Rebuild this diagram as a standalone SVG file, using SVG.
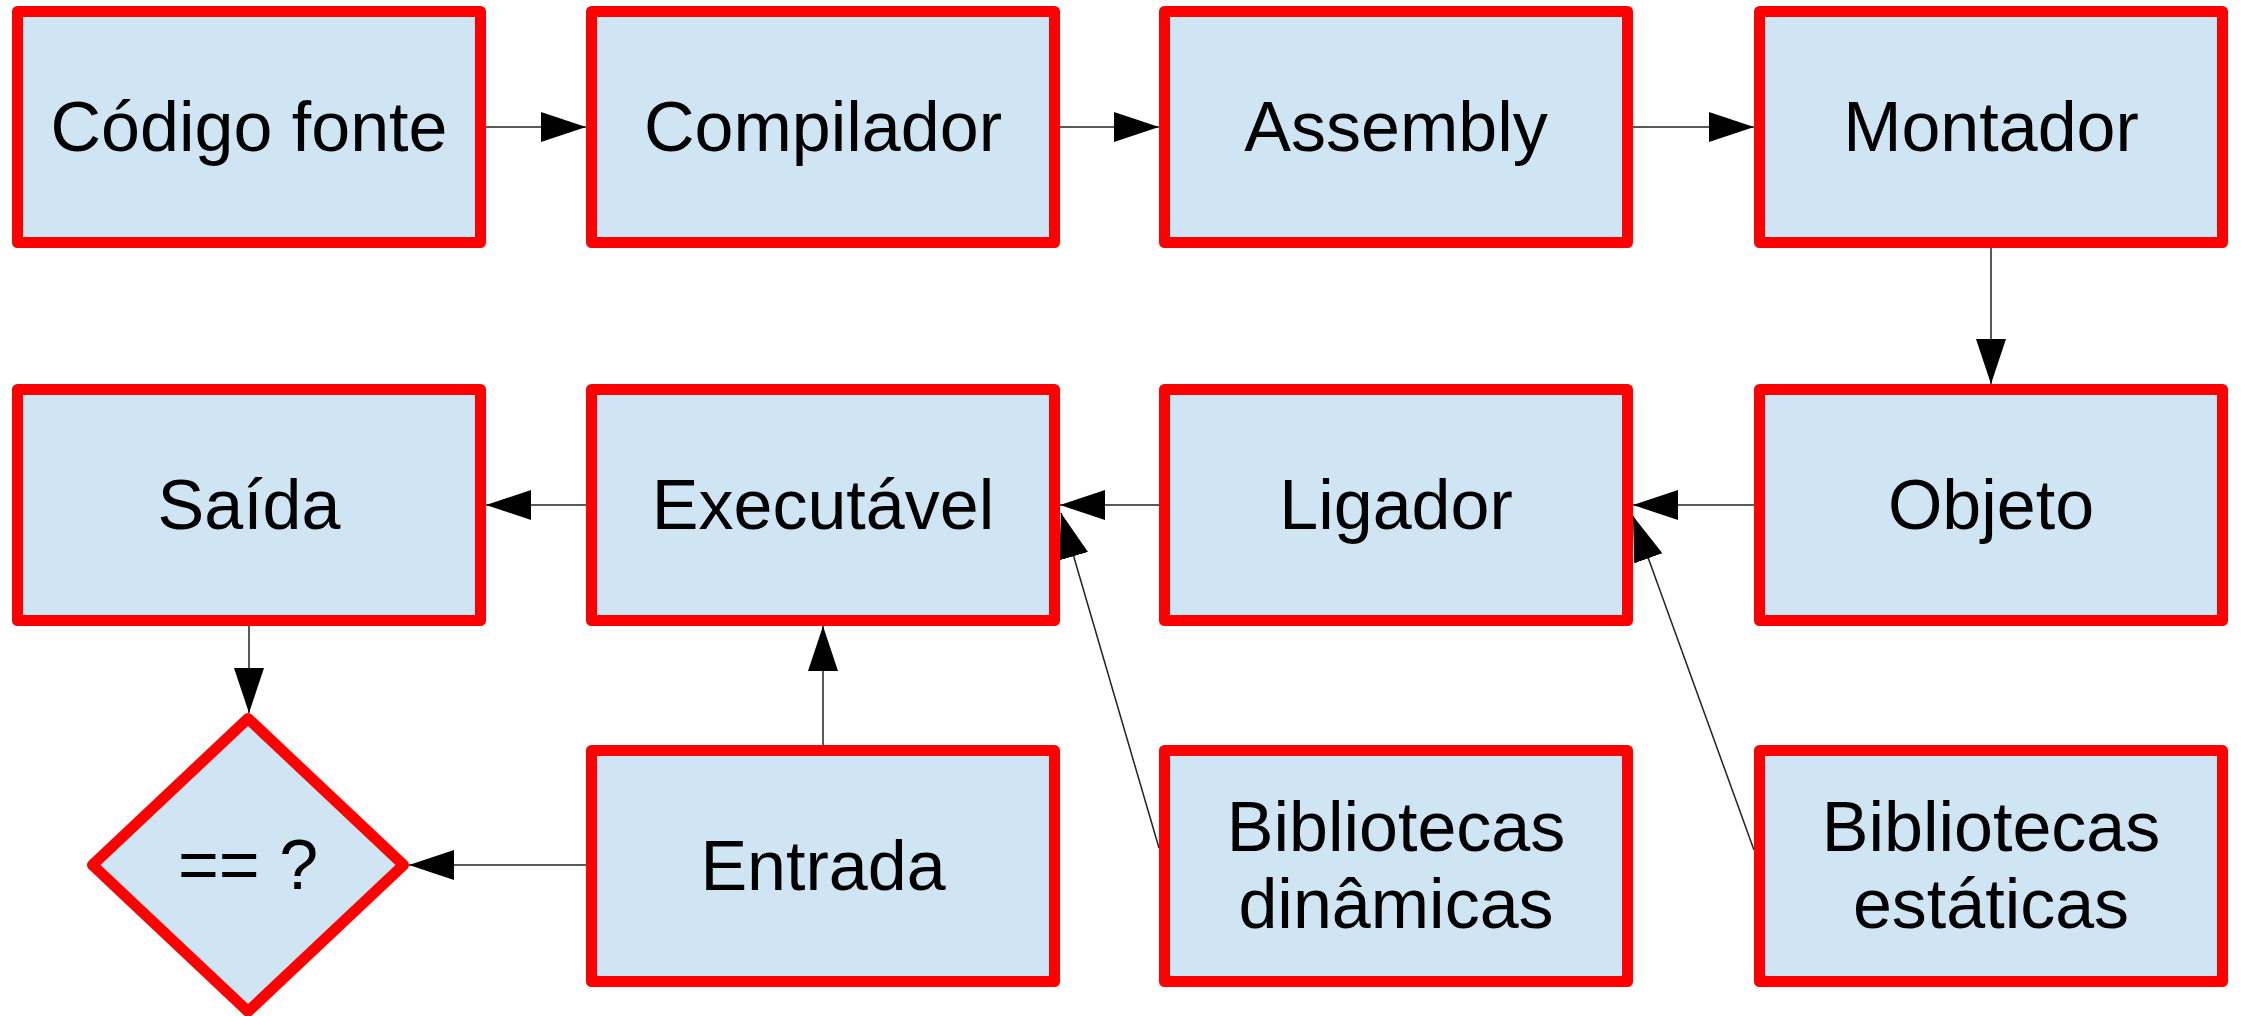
<svg xmlns="http://www.w3.org/2000/svg" width="2241" height="1016" viewBox="0 0 2241 1016">
<style>
.box{fill:#cfe5f3;stroke:#ff0000;stroke-width:11;stroke-linejoin:round}
.lbl{font-family:"Liberation Sans",Arial,sans-serif;font-size:70px;fill:#000;text-anchor:middle}
.con{stroke:#222;stroke-width:1.5;fill:none;marker-end:url(#arr)}
</style>
<defs>
<marker id="arr" markerUnits="userSpaceOnUse" markerWidth="46" markerHeight="30" refX="45" refY="15" orient="auto" viewBox="0 0 46 30">
<path d="M0,0 L45,15 L0,30 Z" fill="#000"/>
</marker>
</defs>
<rect width="2241" height="1016" fill="#fff"/>
<g id="connectors">
<line class="con" x1="486" y1="127" x2="586" y2="127"/>
<line class="con" x1="1060" y1="127" x2="1159" y2="127"/>
<line class="con" x1="1633" y1="127" x2="1754" y2="127"/>
<line class="con" x1="1991" y1="248" x2="1991" y2="384"/>
<line class="con" x1="1754" y1="505" x2="1633" y2="505"/>
<line class="con" x1="1159" y1="505" x2="1060" y2="505"/>
<line class="con" x1="586" y1="505" x2="486" y2="505"/>
<line class="con" x1="249" y1="626" x2="249" y2="713"/>
<line class="con" x1="823" y1="745" x2="823" y2="626"/>
<line class="con" x1="586" y1="865" x2="409" y2="865"/>
<line class="con" x1="1159" y1="848" x2="1061" y2="513"/>
<line class="con" x1="1754" y1="850" x2="1633" y2="516"/>
</g>
<g id="codigo-fonte"><rect class="box" x="17.5" y="11.5" width="463" height="231"/><text class="lbl" x="249" y="151">Código fonte</text></g>
<g id="compilador"><rect class="box" x="591.5" y="11.5" width="463" height="231"/><text class="lbl" x="823" y="151">Compilador</text></g>
<g id="assembly"><rect class="box" x="1164.5" y="11.5" width="463" height="231"/><text class="lbl" x="1396" y="151">Assembly</text></g>
<g id="montador"><rect class="box" x="1759.5" y="11.5" width="463" height="231"/><text class="lbl" x="1991" y="151">Montador</text></g>
<g id="saida"><rect class="box" x="17.5" y="389.5" width="463" height="231"/><text class="lbl" x="249" y="529">Saída</text></g>
<g id="executavel"><rect class="box" x="591.5" y="389.5" width="463" height="231"/><text class="lbl" x="823" y="529">Executável</text></g>
<g id="ligador"><rect class="box" x="1164.5" y="389.5" width="463" height="231"/><text class="lbl" x="1396" y="529">Ligador</text></g>
<g id="objeto"><rect class="box" x="1759.5" y="389.5" width="463" height="231"/><text class="lbl" x="1991" y="529">Objeto</text></g>
<g id="comparacao"><path class="box" d="M248,718.5 L403.5,865 L248,1011.5 L92.5,865 Z"/><text class="lbl" x="248" y="889">== ?</text></g>
<g id="entrada"><rect class="box" x="591.5" y="750.5" width="463" height="231"/><text class="lbl" x="823" y="890">Entrada</text></g>
<g id="bibliotecas-dinamicas"><rect class="box" x="1164.5" y="750.5" width="463" height="231"/><text class="lbl" x="1396" y="851">Bibliotecas</text><text class="lbl" x="1396" y="928">dinâmicas</text></g>
<g id="bibliotecas-estaticas"><rect class="box" x="1759.5" y="750.5" width="463" height="231"/><text class="lbl" x="1991" y="851">Bibliotecas</text><text class="lbl" x="1991" y="928">estáticas</text></g>
</svg>
